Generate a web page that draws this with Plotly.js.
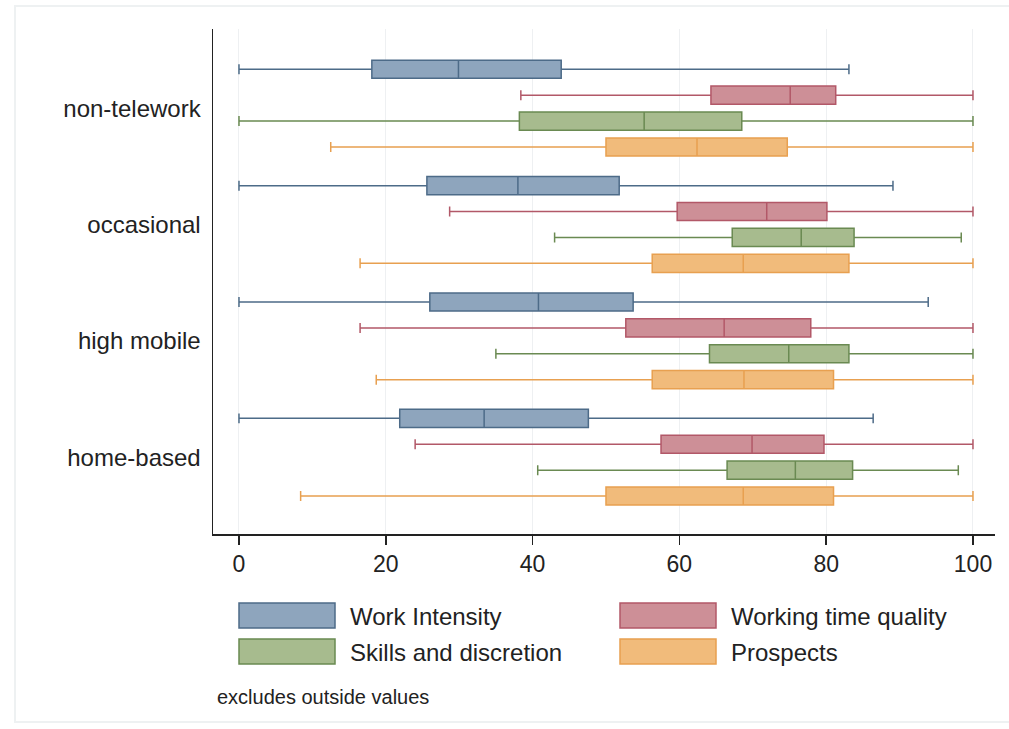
<!DOCTYPE html>
<html>
<head>
<meta charset="utf-8">
<script src="https://cdn.plot.ly/plotly-3.0.1.min.js"></script>
<style>
  html, body { margin: 0; padding: 0; background: #ffffff; overflow: hidden; }
  #frame { position: absolute; left: 14px; top: 5px; width: 995px; height: 718px; border: 2px solid #eef1f2; border-right: none; box-sizing: border-box; }
  #chart { position: absolute; left: 0; top: 0; width: 1009px; height: 729px; }
</style>
</head>
<body>
<div id="frame"></div>
<div id="chart"></div>
<script>
// Categories (top to bottom)
const groups = ["non-telework", "occasional", "high mobile", "home-based"];
const seriesNames = ["Work Intensity", "Working time quality", "Skills and discretion", "Prospects"];

// Box statistics per series, ordered as groups
const workIntensityLow = [0, 0, 0, 0];
const workIntensityQ1 = [18.1, 25.6, 26.0, 21.9];
const workIntensityMed = [29.9, 38.0, 40.8, 33.4];
const workIntensityQ3 = [43.9, 51.8, 53.7, 47.6];
const workIntensityHigh = [83.1, 89.1, 93.9, 86.4];

const workingTimeLow = [38.4, 28.7, 16.5, 24.0];
const workingTimeQ1 = [64.3, 59.7, 52.7, 57.5];
const workingTimeMed = [75.1, 71.9, 66.1, 69.9];
const workingTimeQ3 = [81.3, 80.1, 77.9, 79.7];
const workingTimeHigh = [100, 100, 100, 100];

const skillsLow = [0, 43.0, 35.0, 40.7];
const skillsQ1 = [38.2, 67.2, 64.1, 66.5];
const skillsMed = [55.2, 76.6, 74.9, 75.8];
const skillsQ3 = [68.5, 83.8, 83.1, 83.6];
const skillsHigh = [100, 98.4, 100, 98.0];

const prospectsLow = [12.5, 16.5, 18.7, 8.4];
const prospectsQ1 = [50.0, 56.3, 56.3, 50.0];
const prospectsMed = [62.4, 68.7, 68.8, 68.7];
const prospectsQ3 = [74.7, 83.1, 81.0, 81.0];
const prospectsHigh = [100, 100, 100, 100];

const xTicks = [0, 20, 40, 60, 80, 100];
const note = "excludes outside values";

const stats = [
  [workIntensityLow, workIntensityQ1, workIntensityMed, workIntensityQ3, workIntensityHigh],
  [workingTimeLow, workingTimeQ1, workingTimeMed, workingTimeQ3, workingTimeHigh],
  [skillsLow, skillsQ1, skillsMed, skillsQ3, skillsHigh],
  [prospectsLow, prospectsQ1, prospectsMed, prospectsQ3, prospectsHigh]
];
const fills = ["#8ea5bd", "#cd8f97", "#a7bb8e", "#f1bb7b"];
const lines = ["#4d6b88", "#b25868", "#6a8a52", "#e8a050"];

const traces = stats.map((s, i) => ({
  type: "box",
  orientation: "h",
  name: seriesNames[i],
  y: groups,
  lowerfence: s[0],
  q1: s[1],
  median: s[2],
  q3: s[3],
  upperfence: s[4],
  fillcolor: fills[i],
  line: { color: lines[i], width: 1.5 },
  whiskerwidth: 0.55,
  boxpoints: false,
  hoverinfo: "skip",
  showlegend: false
}));

// plot area in pixels: x 213..995, y 29..534
const L = 213, R = 995, T = 29, B = 534;
const px = v => (v - L) / (R - L);
const py = v => (B - v) / (B - T);

const FONT = "Liberation Sans, Arial, sans-serif";
const shapes = [];
const annotations = [];
const legendPos = [
  { x: 239, y: 603 }, { x: 620, y: 603 },
  { x: 239, y: 639 }, { x: 620, y: 639 }
];
seriesNames.forEach((n, i) => {
  const p = legendPos[i];
  shapes.push({
    type: "rect", xref: "paper", yref: "paper",
    x0: px(p.x), x1: px(p.x + 96), y0: py(p.y + 25), y1: py(p.y),
    fillcolor: fills[i], line: { color: lines[i], width: 1.5 }
  });
  annotations.push({
    xref: "paper", yref: "paper", x: px(p.x + 109), y: py(p.y + 13),
    xanchor: "left", yanchor: "middle", showarrow: false, text: n,
    font: { family: FONT, size: 24, color: "#222" }
  });
});
annotations.push({
  xref: "paper", yref: "paper", x: px(215), y: py(697),
  xanchor: "left", yanchor: "middle", showarrow: false, text: note,
  font: { family: FONT, size: 20, color: "#222" }
});

const layout = {
  width: 1009, height: 729,
  margin: { l: L, r: 1009 - R, t: T, b: 729 - B },
  paper_bgcolor: "rgba(0,0,0,0)",
  plot_bgcolor: "rgba(0,0,0,0)",
  boxmode: "group",
  boxgap: 0.11,
  boxgroupgap: 0.3,
  showlegend: false,
  font: { family: FONT, color: "#222" },
  xaxis: {
    range: [-3.54, 103.0],
    tickvals: xTicks,
    ticks: "outside", ticklen: 9, tickwidth: 1.5, tickcolor: "#222",
    showline: true, linecolor: "#222", linewidth: 1.5,
    showgrid: true, gridcolor: "#eef0f2", gridwidth: 1,
    zeroline: false,
    tickfont: { size: 23, color: "#222" }
  },
  yaxis: {
    type: "category",
    categoryorder: "array", categoryarray: groups,
    range: [3.66, -0.68],
    showline: true, linecolor: "#222", linewidth: 1.5,
    showgrid: false, zeroline: false,
    ticks: "", ticklabelstandoff: 6,
    tickfont: { size: 24, color: "#222" }
  },
  shapes: shapes,
  annotations: annotations
};

Plotly.newPlot("chart", traces, layout, { displayModeBar: false, staticPlot: true });
</script>
</body>
</html>
